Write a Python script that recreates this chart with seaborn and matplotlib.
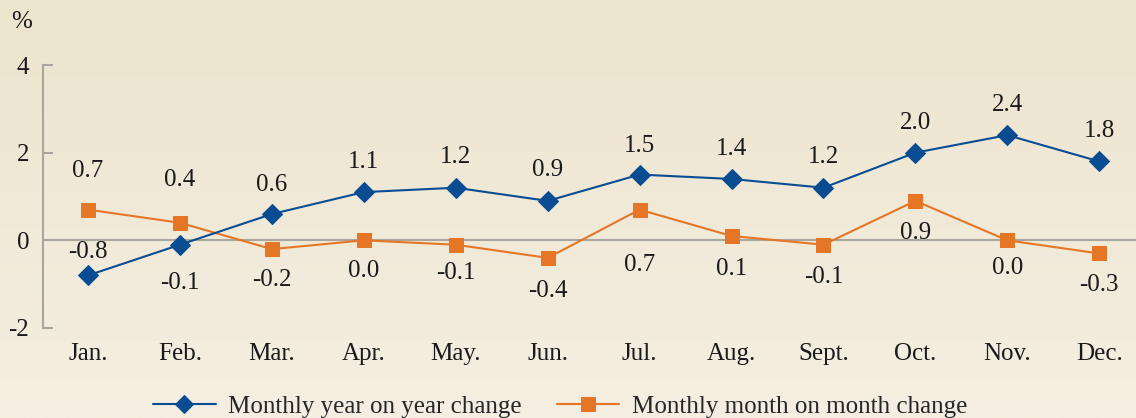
import numpy as np
import pandas as pd
import matplotlib
matplotlib.use('Agg')
import matplotlib.pyplot as plt
import seaborn as sns

# 数据
months = ['Jan.', 'Feb.', 'Mar.', 'Apr.', 'May.', 'Jun.', 'Jul.', 'Aug.', 'Sept.', 'Oct.', 'Nov.', 'Dec.']
yoy = [-0.8, -0.1, 0.6, 1.1, 1.2, 0.9, 1.5, 1.4, 1.2, 2.0, 2.4, 1.8]
mom = [0.7, 0.4, -0.2, 0.0, -0.1, -0.4, 0.7, 0.1, -0.1, 0.9, 0.0, -0.3]
yoy_name = 'Monthly year on year change'
mom_name = 'Monthly month on month change'

# 标签的偏移（像素）
yoy_off = [23, -38, 29, 30, 31, 31, 29, 30, 31, 30, 30, 30]
mom_off = [39, 43, -31, -31, -28, -33, -55, -33, -32, -32, -28, -32]

blue = '#0A4C92'
orange = '#E57626'
grey = '#A9A69E'
fs = 18

sns.set_style('white')
plt.rcParams['font.family'] = ['Liberation Serif', 'DejaVu Serif']

fig = plt.figure(figsize=(11.36, 4.18), dpi=100)

# 背景渐变
bg = fig.add_axes([0, 0, 1, 1], zorder=-10)
top_c = np.array([237, 228, 206]) / 255
bot_c = np.array([244, 239, 226]) / 255
t = np.linspace(0, 1, 256)[:, None]
grad = top_c[None, :] * (1 - t) + bot_c[None, :] * t
bg.imshow(grad[:, None, :], aspect='auto', extent=[0, 1, 0, 1])
bg.axis('off')

ax = fig.add_axes([43 / 1136, 1 - 328 / 418, 1 - 43 / 1136, (328 - 65) / 418])
ax.set_facecolor('none')

df = pd.DataFrame({'x': np.arange(len(months)), 'yoy': yoy, 'mom': mom})

sns.lineplot(data=df, x='x', y='mom', ax=ax, color=orange, lw=1.5, marker='s',
             markersize=10.5, markeredgecolor=orange, label=mom_name, zorder=3)
sns.lineplot(data=df, x='x', y='yoy', ax=ax, color=blue, lw=1.5, marker='D',
             markersize=10.5, markeredgecolor=blue, label=yoy_name, zorder=4)

ax.axhline(0, color=grey, lw=1.5, zorder=1)

for i in range(len(months)):
    ax.annotate(f'{yoy[i]:.1f}', (i, yoy[i]), xytext=(0, yoy_off[i]), textcoords='offset pixels',
                ha='center', va='center', fontsize=fs, color='#1a1a1a')
    ax.annotate(f'{mom[i]:.1f}', (i, mom[i]), xytext=(0, mom_off[i]), textcoords='offset pixels',
                ha='center', va='center', fontsize=fs, color='#1a1a1a')

ax.set_xlim(-0.49, 11.40)
ax.set_ylim(-2, 4)
ax.set_yticks([-2, 0, 2, 4])
ax.set_yticklabels(['-2', '0', '2', '4'])
ax.set_xticks(range(len(months)))
ax.set_xticklabels(months)
ax.tick_params(axis='y', left=True, direction='in', length=7, width=1.5, color=grey, pad=10,
               labelsize=fs, labelcolor='#1a1a1a')
ax.tick_params(axis='x', length=0, pad=11, labelsize=fs, labelcolor='#1a1a1a')
ax.set_xlabel('')
ax.set_ylabel('')
for s in ['top', 'right', 'bottom']:
    ax.spines[s].set_visible(False)
ax.spines['left'].set_color(grey)
ax.spines['left'].set_linewidth(1.5)

fig.text(22 / 1136, 1 - 22 / 418, '%', ha='center', va='center', fontsize=fs, color='#1a1a1a')

handles, labels = ax.get_legend_handles_labels()
ax.get_legend().remove()
order = [labels.index(yoy_name), labels.index(mom_name)]
fig.legend([handles[k] for k in order], [labels[k] for k in order], loc='center',
           bbox_to_anchor=(0.493, 0.028), ncol=2, frameon=False, fontsize=fs,
           handlelength=2.5, handletextpad=0.5, columnspacing=1.4, markerscale=0.9)

fig.savefig('out.png', dpi=100)
